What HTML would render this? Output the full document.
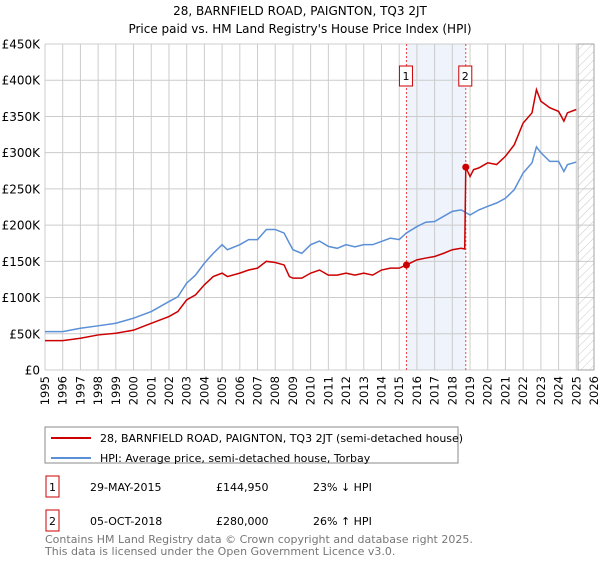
<!DOCTYPE html>
<html><head><meta charset="utf-8"><style>
body{margin:0;background:#fff;font-family:"DejaVu Sans","Liberation Sans",sans-serif;}
svg text{font-family:"DejaVu Sans","Liberation Sans",sans-serif;}
</style></head><body>
<svg id="c" width="600" height="560" xmlns="http://www.w3.org/2000/svg">
<defs><pattern id="hatch" width="6" height="6" patternUnits="userSpaceOnUse" patternTransform="rotate(45)"><line x1="0" y1="0" x2="0" y2="6" stroke="#bbb" stroke-width="0.8"/></pattern></defs>
<text x="300" y="15" text-anchor="middle" font-size="12">28, BARNFIELD ROAD, PAIGNTON, TQ3 2JT</text>
<text x="300" y="33" text-anchor="middle" font-size="12">Price paid vs. HM Land Registry's House Price Index (HPI)</text>
<g id="grid"></g><g id="marks"></g><g id="axes"></g>
<rect x="45" y="427" width="413" height="36" fill="#fff" stroke="#888"/>
<line x1="51" y1="438" x2="91" y2="438" stroke="#cc0000" stroke-width="2"/>
<text x="100" y="442" font-size="11">28, BARNFIELD ROAD, PAIGNTON, TQ3 2JT (semi-detached house)</text>
<line x1="51" y1="458" x2="91" y2="458" stroke="#5b8fd6" stroke-width="2"/>
<text x="100" y="462" font-size="11">HPI: Average price, semi-detached house, Torbay</text>
<g font-size="11">
<rect x="46" y="476" width="13" height="21" fill="#fff" stroke="#cc0000"/>
<text x="52.5" y="491" text-anchor="middle">1</text>
<text x="90" y="491">29-MAY-2015</text>
<text x="216" y="491">£144,950</text>
<text x="313" y="491">23% ↓ HPI</text>
<rect x="46" y="510" width="13" height="21" fill="#fff" stroke="#cc0000"/>
<text x="52.5" y="525" text-anchor="middle">2</text>
<text x="90" y="525">05-OCT-2018</text>
<text x="216" y="525">£280,000</text>
<text x="313" y="525">26% ↑ HPI</text>
</g>
<text x="45" y="543" font-size="11" fill="#777">Contains HM Land Registry data © Crown copyright and database right 2025.</text>
<text x="45" y="555" font-size="11" fill="#777">This data is licensed under the Open Government Licence v3.0.</text>
</svg>
<script>
const hpiYears=[1995,1996,1997,1998,1999,2000,2001,2002,2002.5,2003,2003.5,2004,2004.5,2005,2005.3,2006,2006.5,2007,2007.5,2008,2008.5,2008.8,2009,2009.5,2010,2010.5,2011,2011.5,2012,2012.5,2013,2013.5,2014,2014.5,2015,2015.4,2016,2016.5,2017,2017.5,2018,2018.5,2019,2019.5,2020,2020.5,2021,2021.5,2022,2022.5,2022.75,2023,2023.5,2024,2024.3,2024.5,2025];
const hpiValues=[53,53,57.6,61,64.5,71.5,80.7,94.5,101,120,131,147.5,161,173,166,173,180,180,194,194,189,175,166,161,173,178,170.6,168,173,170,173,173,177.5,182,180,189,198,204,205,212,219,221,214,221,226,230.5,237,249,272,286,308,300,288,288,274,283.5,287];
const priceYears=[1995,1996,1997,1998,1999,2000,2001,2002,2002.5,2003,2003.5,2004,2004.5,2005,2005.3,2006,2006.5,2007,2007.5,2008,2008.5,2008.8,2009,2009.5,2010,2010.5,2011,2011.5,2012,2012.5,2013,2013.5,2014,2014.5,2015,2015.41,2016,2016.5,2017,2017.5,2018,2018.5,2018.7,2018.76,2019,2019.2,2019.5,2020,2020.5,2021,2021.5,2022,2022.5,2022.75,2023,2023.5,2024,2024.3,2024.5,2025];
const priceValues=[40.6,40.6,43.8,48.4,50.7,55,64.5,73.8,80.7,96.8,103.7,117.6,129,133.7,129,133.7,138,140.6,150,148.4,145,129,126.8,126.8,133.7,138,131,131,133.7,131,133.7,131,138,140.6,140.6,145,152,154.5,156.7,161,166,168,167,280,267,276.6,279,286,283.6,295,311,341,355,387,371,362,357,343.5,355,359.6];
const saleYears=[2015.41,2018.76];
const saleValues=[144.95,280];
const saleLabels=["1","2"];
const yTicks=[0,50,100,150,200,250,300,350,400,450];
const xTicks=[1995,1996,1997,1998,1999,2000,2001,2002,2003,2004,2005,2006,2007,2008,2009,2010,2011,2012,2013,2014,2015,2016,2017,2018,2019,2020,2021,2022,2023,2024,2025,2026];
const X0=45,X1=594,Y0=370,Y1=44;
const xs=y=>X0+(y-1995)/(2026-1995)*(X1-X0);
const ys=v=>Y0-v/450*(Y0-Y1);
const NS="http://www.w3.org/2000/svg";
function mk(t,a,p){const e=document.createElementNS(NS,t);for(const k in a)e.setAttribute(k,a[k]);p.appendChild(e);return e;}
const grid=document.getElementById('grid'),marks=document.getElementById('marks'),axes=document.getElementById('axes');
const shade=mk('rect',{x:xs(saleYears[0]),y:Y1,width:xs(saleYears[1])-xs(saleYears[0]),height:Y0-Y1,fill:'#eef3fc'},grid);


xTicks.forEach(t=>{const l=mk('line',{x1:xs(t),x2:xs(t),y1:Y1,y2:Y0,stroke:'#ccc','stroke-width':1},grid);


const tx=mk('text',{x:0,y:0,'font-size':11.5,'text-anchor':'end',transform:`translate(${xs(t)+4},${Y0+6}) rotate(-90)`},axes);tx.textContent=t;

});
yTicks.forEach(t=>{const l=mk('line',{x1:X0,x2:X1,y1:ys(t),y2:ys(t),stroke:'#ccc','stroke-width':1},grid);


const tx=mk('text',{x:X0-5,y:ys(t)+4.5,'font-size':12,'text-anchor':'end'},axes);tx.textContent=t===0?'£0':'£'+t+'K';

});
const hx=xs(2025.1);
const hr=mk('rect',{x:hx,y:Y1,width:X1-hx,height:Y0-Y1,fill:'url(#hatch)',stroke:'#999','stroke-width':0.8},grid);


saleYears.forEach((y,i)=>{const l=mk('line',{x1:xs(y),x2:xs(y),y1:Y1,y2:Y0,stroke:'#e44','stroke-width':1,'stroke-dasharray':'2,2'},marks);


const b=mk('rect',{x:xs(y)-7,y:66,width:13,height:20,fill:'#fff',stroke:'#cc0000'},marks);


const t=mk('text',{x:xs(y)-0.5,y:80,'font-size':11,'text-anchor':'middle'},marks);t.textContent=saleLabels[i];

});
const hp=mk('polyline',{points:hpiYears.map((y,i)=>xs(y)+','+ys(hpiValues[i])).join(' '),fill:'none',stroke:'#5b8fd6','stroke-width':1.5},marks);


const pp=mk('polyline',{points:priceYears.map((y,i)=>xs(y)+','+ys(priceValues[i])).join(' '),fill:'none',stroke:'#cc0000','stroke-width':1.5},marks);


saleYears.forEach((y,i)=>{const c=mk('circle',{cx:xs(y),cy:ys(saleValues[i]),r:3.5,fill:'#cc0000'},marks);

});
</script>
</body></html>
